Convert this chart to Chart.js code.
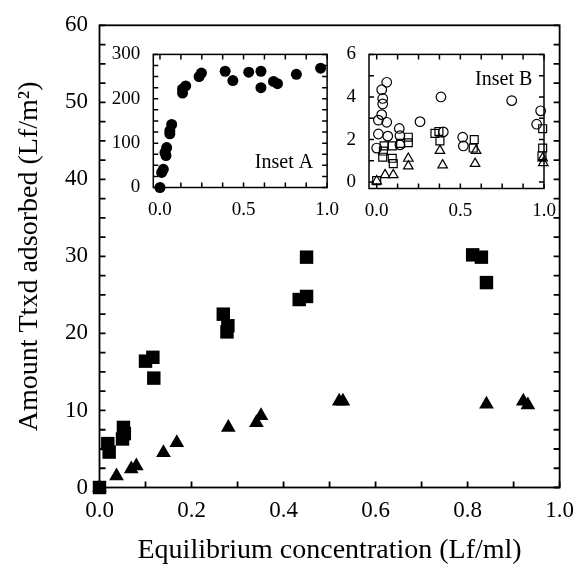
<!DOCTYPE html>
<html>
<head>
<meta charset="utf-8">
<script src="https://cdn.jsdelivr.net/npm/chart.js@4/dist/chart.umd.min.js"></script>
<style>
body { margin: 0; background: #fff; }
#wrap { position: relative; width: 584px; height: 577px; }
canvas { position: absolute; }
</style>
</head>
<body>
<div id="wrap">
<canvas id="main" width="584" height="577" style="left:0;top:0"></canvas>
<canvas id="insetA" width="250" height="190" style="left:100px;top:30px"></canvas>
<canvas id="insetB" width="250" height="190" style="left:320px;top:30px"></canvas>
</div>
<script>
// main plot: Ttxd adsorbed vs equilibrium concentration
const squareX = [0, 0.018, 0.021, 0.050, 0.052, 0.054, 0.100, 0.116, 0.118, 0.269, 0.277, 0.279, 0.434, 0.450, 0.450, 0.811, 0.830, 0.841];
const squareY = [0, 5.7, 4.6, 6.3, 7.8, 7.0, 16.4, 16.9, 14.2, 22.5, 20.2, 21.0, 24.4, 24.8, 29.9, 30.2, 29.9, 26.6];
const triangleX = [0, 0.037, 0.069, 0.080, 0.139, 0.168, 0.280, 0.341, 0.351, 0.521, 0.529, 0.841, 0.921, 0.931];
const triangleY = [0, 1.5, 2.4, 2.8, 4.5, 5.8, 7.8, 8.4, 9.3, 11.2, 11.2, 10.8, 11.2, 10.7];

// inset A
const insetAX = [0, 0.01, 0.02, 0.03, 0.04, 0.036, 0.059, 0.07, 0.059, 0.135, 0.154, 0.135, 0.234, 0.248, 0.39, 0.436, 0.531, 0.604, 0.604, 0.679, 0.703, 0.816, 0.961];
const insetAY = [0, 34, 41, 79, 90, 72, 128, 142, 121, 222, 229, 213, 250, 258, 262, 241, 260, 262, 225, 239, 234, 255, 269];

// inset B
const circleBX = [0.06, 0.03, 0.036, 0.036, 0.03, 0.01, 0.06, 0.01, 0.066, 0.0, 0.135, 0.139, 0.139, 0.259, 0.384, 0.398, 0.514, 0.518, 0.807, 0.98, 0.956];
const circleBY = [4.69, 4.34, 3.93, 3.67, 3.17, 2.91, 2.81, 2.26, 2.16, 1.6, 2.52, 2.18, 1.75, 2.84, 4.0, 2.36, 2.11, 1.7, 3.83, 3.35, 2.72];
const squareBX = [0, 0.044, 0.04, 0.036, 0.093, 0.093, 0.099, 0.143, 0.189, 0.189, 0.348, 0.372, 0.378, 0.583, 0.577, 0.992, 0.992, 0.988];
const squareBY = [0.07, 1.7, 1.46, 1.17, 1.7, 1.12, 0.87, 1.82, 2.11, 1.85, 2.29, 2.38, 1.94, 2.0, 1.6, 2.51, 1.6, 1.24];
const triangleBX = [0, 0.05, 0.099, 0.189, 0.189, 0.378, 0.394, 0.588, 0.594, 0.992, 0.996];
const triangleBY = [0.05, 0.34, 0.34, 1.11, 0.75, 1.48, 0.8, 0.87, 1.48, 1.12, 0.9];

const toPoints = (xs, ys) => xs.map((x, i) => ({ x, y: ys[i] }));

Chart.defaults.font.family = "'Liberation Serif', 'Times New Roman', serif";
Chart.defaults.color = '#000';

// frame + inward ticks, drawn from the scales' own ticks
const framePlugin = {
    id: 'frame',
    beforeDraw(chart, args, opts) {
        if (!opts.fill) return;
        const { ctx, chartArea: a } = chart;
        ctx.save();
        ctx.fillStyle = '#fff';
        ctx.fillRect(a.left, a.top, a.width, a.height);
        ctx.restore();
    },
    beforeDatasetsDraw(chart, args, opts) {
        const { ctx, chartArea: a, scales } = chart;
        const len = opts.len || 5;
        ctx.save();
        ctx.strokeStyle = '#000';
        ctx.lineWidth = opts.lineWidth || 1.5;
        ctx.strokeRect(a.left, a.top, a.width, a.height);
        ctx.beginPath();
        scales.x.ticks.forEach(t => {
            if (t.value < -1e-9) return;
            const px = scales.x.getPixelForValue(t.value);
            ctx.moveTo(px, a.bottom);
            ctx.lineTo(px, a.bottom - len);
            if (opts.top) {
                ctx.moveTo(px, a.top);
                ctx.lineTo(px, a.top + len);
            }
        });
        scales.y.ticks.forEach(t => {
            if (t.value < -1e-9) return;
            const py = scales.y.getPixelForValue(t.value);
            ctx.moveTo(a.left, py);
            ctx.lineTo(a.left + len, py);
            ctx.moveTo(a.right, py);
            ctx.lineTo(a.right - len, py);
        });
        ctx.stroke();
        ctx.restore();
    },
    afterDraw(chart, args, opts) {
        if (!opts.label) return;
        const { ctx, chartArea: a } = chart;
        ctx.save();
        ctx.font = "20px 'Liberation Serif', serif";
        ctx.fillStyle = '#000';
        ctx.textAlign = 'right';
        ctx.textBaseline = 'alphabetic';
        ctx.fillText(opts.label, a.right - opts.labelRight, opts.labelTop ? a.top + opts.labelTop : a.bottom - opts.labelBottom);
        ctx.restore();
    }
};

const halfLabel = v => Math.abs(v * 2 - Math.round(v * 2)) < 1e-6 ? v.toFixed(1) : '';

function baseOptions(extra) {
    return Object.assign({
        responsive: false,
        animation: false,
        events: [],
    }, extra);
}

new Chart(document.getElementById('main'), {
    type: 'scatter',
    data: {
        datasets: [{
            data: toPoints(squareX, squareY),
            pointStyle: 'rect',
            pointRadius: 9.5,
            backgroundColor: '#000',
            borderColor: '#000',
            borderWidth: 0,
            clip: false,
        }, {
            data: toPoints(triangleX, triangleY),
            pointStyle: 'triangle',
            pointRadius: 8.5,
            backgroundColor: '#000',
            borderColor: '#000',
            borderWidth: 0,
            clip: false,
        }]
    },
    options: baseOptions({
        layout: { padding: { left: 0, top: 23, right: 17, bottom: 0 } },
        plugins: {
            legend: { display: false },
            tooltip: { enabled: false },
            frame: { len: 6, lineWidth: 1.8 },
        },
        scales: {
            x: {
                type: 'linear', min: 0, max: 1,
                grid: { display: false, drawTicks: false },
                border: { display: false },
                ticks: {
                    stepSize: 0.1, autoSkip: false, maxRotation: 0, padding: 10,
                    font: { size: 23 },
                    callback: v => Math.round(v * 10) % 2 === 0 ? v.toFixed(1) : '',
                },
                title: { display: true, text: 'Equilibrium concentration (Lf/ml)', font: { size: 28 }, padding: { bottom: 10 } },
                afterFit: s => { s.height = 89.5; },
            },
            y: {
                type: 'linear', min: 0, max: 60,
                grid: { display: false, drawTicks: false },
                border: { display: false },
                ticks: {
                    stepSize: 2.5, autoSkip: false, padding: 11.5,
                    font: { size: 23 },
                    callback: v => v % 10 === 0 ? String(v) : '',
                },
                title: { display: true, text: 'Amount Ttxd adsorbed (Lf/m²)', font: { size: 28 }, padding: { top: 13 } },
                afterFit: s => { s.width = 99.5; },
            }
        }
    }),
    plugins: [framePlugin]
});

new Chart(document.getElementById('insetA'), {
    type: 'scatter',
    data: {
        datasets: [{
            data: toPoints(insetAX, insetAY),
            pointStyle: 'circle',
            pointRadius: 5.5,
            backgroundColor: '#000',
            borderColor: '#000',
            borderWidth: 0,
            clip: false,
        }]
    },
    options: baseOptions({
        layout: { padding: { left: 0, top: 14.3, right: 21.7, bottom: 0 } },
        plugins: {
            legend: { display: false },
            tooltip: { enabled: false },
            frame: { fill: true, top: true, len: 5, lineWidth: 1.5, label: 'Inset A', labelRight: 14, labelBottom: 20 },
        },
        scales: {
            x: {
                type: 'linear', min: -0.04, max: 1,
                grid: { display: false, drawTicks: false },
                border: { display: false },
                ticks: { stepSize: 0.125, includeBounds: false, autoSkip: false, maxRotation: 0, padding: 11, font: { size: 19 }, callback: halfLabel },
                afterFit: s => { s.height = 32.5; },
            },
            y: {
                type: 'linear', min: 0, max: 300,
                grid: { display: false, drawTicks: false },
                border: { display: false },
                ticks: { stepSize: 25, autoSkip: false, padding: 13, font: { size: 19 }, callback: v => v % 100 === 0 ? String(v) : '' },
                afterFit: s => { s.width = 53.3; },
            }
        }
    }),
    plugins: [framePlugin]
});

new Chart(document.getElementById('insetB'), {
    type: 'scatter',
    data: {
        datasets: [{
            data: toPoints(circleBX, circleBY),
            pointStyle: 'circle',
            pointRadius: 4.8,
            backgroundColor: 'rgba(0,0,0,0)',
            borderColor: '#000',
            borderWidth: 1.2,
            clip: false,
        }, {
            data: toPoints(squareBX, squareBY),
            pointStyle: 'rect',
            pointRadius: 5.6,
            backgroundColor: 'rgba(0,0,0,0)',
            borderColor: '#000',
            borderWidth: 1.2,
            clip: false,
        }, {
            data: toPoints(triangleBX, triangleBY),
            pointStyle: 'triangle',
            pointRadius: 5.5,
            backgroundColor: 'rgba(0,0,0,0)',
            borderColor: '#000',
            borderWidth: 1.2,
            clip: false,
        }]
    },
    options: baseOptions({
        layout: { padding: { left: 0, top: 14.3, right: 26, bottom: 0 } },
        plugins: {
            legend: { display: false },
            tooltip: { enabled: false },
            frame: { fill: true, top: true, len: 5, lineWidth: 1.5, label: 'Inset B', labelRight: 11.7, labelTop: 30.7 },
        },
        scales: {
            x: {
                type: 'linear', min: -0.046, max: 1,
                grid: { display: false, drawTicks: false },
                border: { display: false },
                ticks: { stepSize: 0.125, includeBounds: false, autoSkip: false, maxRotation: 0, padding: 11, font: { size: 19 }, callback: halfLabel },
                afterFit: s => { s.height = 31.5; },
            },
            y: {
                type: 'linear', min: -0.3, max: 6,
                grid: { display: false, drawTicks: false },
                border: { display: false },
                ticks: { stepSize: 1, includeBounds: false, autoSkip: false, padding: 13, font: { size: 19 }, callback: v => v % 2 === 0 ? String(v) : '' },
                afterFit: s => { s.width = 49; },
            }
        }
    }),
    plugins: [framePlugin]
});
</script>
</body>
</html>
